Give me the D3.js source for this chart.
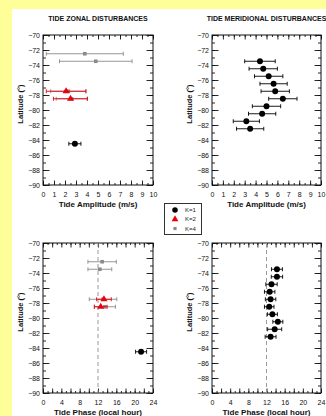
<!DOCTYPE html>
<html>
<head>
<meta charset="utf-8">
<script src="https://cdn.jsdelivr.net/npm/d3@7"></script>
<style>
  body { margin: 0; background: #ffff99; }
  svg { display: block; }
  text { font-family: Arial, "Liberation Sans", sans-serif; }
</style>
</head>
<body>
<div id="chart"></div>
<script>
// zonal disturbances
var latZonalK1 = [-84.5];
var ampZonalK1 = [2.9];
var ampErrZonalK1 = [0.55];
var phaseZonalK1 = [21.4];
var phaseErrZonalK1 = [1.2];

var latZonalK2 = [-77.5, -78.5];
var ampZonalK2 = [2.1, 2.5];
var ampErrZonalK2 = [1.8, 1.55];
var phaseZonalK2 = [13.3, 12.6];
var phaseErrZonalK2 = [1.6, 1.4];

var latZonalK4 = [-72.5, -73.5, -77.5, -78.5];
var ampZonalK4 = [3.8, 4.8, 2.3, 2.6];
var ampErrZonalK4 = [3.5, 3.3, 1.6, 1.4];
var phaseZonalK4 = [12.9, 12.4, 13.1, 13.5];
var phaseErrZonalK4 = [3.1, 2.6, 3.0, 2.3];

// meridional disturbances (K=1 only)
var latMerid = [-73.5, -74.5, -75.5, -76.5, -77.5, -78.5, -79.5, -80.5, -81.5, -82.5];
var ampMerid = [4.4, 4.7, 5.2, 5.65, 5.8, 6.5, 5.0, 4.6, 3.15, 3.5];
var ampErrMerid = [1.4, 1.3, 1.3, 1.25, 1.3, 1.3, 1.3, 1.25, 1.2, 1.25];
var phaseMerid = [14.3, 14.3, 13.1, 12.7, 12.9, 12.6, 13.3, 14.5, 13.8, 12.9];
var phaseErrMerid = [1.2, 1.25, 1.25, 1.15, 1.15, 1.05, 1.1, 1.1, 1.55, 1.2];

var latTicks = [-70, -72, -74, -76, -78, -80, -82, -84, -86, -88, -90];
var ampTicks = [0, 1, 2, 3, 4, 5, 6, 7, 8, 9, 10];
var phaseTicks = [0, 4, 8, 12, 16, 20, 24];
var legendLabels = ["K=1", "K=2", "K=4"];

var W = 326, H = 416;
var svg = d3.select("#chart").append("svg").attr("width", W).attr("height", H);
svg.append("rect").attr("x", 12).attr("y", 9).attr("width", W - 12).attr("height", H - 9).attr("fill", "#fff");

var red = "#e8000b", grey = "#8a8a8a";

function zip(lat, v, e) {
  return lat.map(function (d, i) { return { lat: d, v: v[i], e: e[i] }; });
}

function panel(opt) {
  var x = d3.scaleLinear().domain(opt.xDomain).range([opt.left, opt.right]);
  var y = d3.scaleLinear().domain([-90, -70]).range([opt.bottom, opt.top]);
  var g = svg.append("g");
  var minorX = d3.range(opt.xDomain[0], opt.xDomain[1] + 0.001, opt.minorStep);
  var majorX = d3.range(opt.xDomain[0], opt.xDomain[1] + 0.001, opt.majorStep);
  var minorY = d3.range(-90, -69, 1);

  // bottom
  g.append("g").attr("transform", "translate(0," + opt.bottom + ")")
    .call(d3.axisBottom(x).tickValues(minorX).tickFormat("").tickSize(-2));
  g.append("g").attr("transform", "translate(0," + opt.bottom + ")")
    .call(d3.axisBottom(x).tickValues(majorX).tickFormat("").tickSize(-4.5));
  g.append("g").attr("class", "lab").attr("transform", "translate(0," + opt.bottom + ")")
    .call(d3.axisBottom(x).tickValues(opt.xTicks).tickSize(0).tickPadding(7));
  // top
  g.append("g").attr("transform", "translate(0," + opt.top + ")")
    .call(d3.axisTop(x).tickValues(minorX).tickFormat("").tickSize(-2));
  g.append("g").attr("transform", "translate(0," + opt.top + ")")
    .call(d3.axisTop(x).tickValues(majorX).tickFormat("").tickSize(-4.5));
  // left
  g.append("g").attr("transform", "translate(" + opt.left + ",0)")
    .call(d3.axisLeft(y).tickValues(minorY).tickFormat("").tickSize(-3));
  g.append("g").attr("class", "lab").attr("transform", "translate(" + opt.left + ",0)")
    .call(d3.axisLeft(y).tickValues(latTicks).tickSize(-6.5).tickPadding(3));
  // right
  g.append("g").attr("transform", "translate(" + opt.right + ",0)")
    .call(d3.axisRight(y).tickValues(minorY).tickFormat("").tickSize(-3));
  g.append("g").attr("transform", "translate(" + opt.right + ",0)")
    .call(d3.axisRight(y).tickValues(latTicks).tickFormat("").tickSize(-6.5));

  g.selectAll(".domain").remove();
  g.selectAll(".tick line").attr("stroke", "#111").attr("stroke-width", 0.9);
  g.selectAll(".lab text").attr("font-size", "7px").attr("fill", "#111");

  g.append("rect").attr("x", opt.left).attr("y", opt.top)
    .attr("width", opt.right - opt.left).attr("height", opt.bottom - opt.top)
    .attr("fill", "none").attr("stroke", "#111").attr("stroke-width", 1);

  if (opt.dashAt != null) {
    g.append("line").attr("x1", x(opt.dashAt)).attr("x2", x(opt.dashAt))
      .attr("y1", opt.top).attr("y2", opt.bottom)
      .attr("stroke", "#999").attr("stroke-width", 1).attr("stroke-dasharray", "4,3");
  }

  if (opt.title) {
    g.append("text").attr("x", (opt.left + opt.right) / 2).attr("y", opt.top - 14)
      .attr("text-anchor", "middle").attr("font-size", "7px").attr("font-weight", "bold")
      .attr("fill", "#111").text(opt.title);
  }
  g.append("text").attr("x", (opt.left + opt.right) / 2).attr("y", opt.bottom + 22)
    .attr("text-anchor", "middle").attr("font-size", "8px").attr("font-weight", "bold")
    .attr("fill", "#111").text(opt.xLabel);
  g.append("text")
    .attr("transform", "translate(" + (opt.left - 20) + "," + ((opt.top + opt.bottom) / 2 - 6) + ") rotate(-90)")
    .attr("text-anchor", "middle").attr("font-size", "7.5px").attr("font-weight", "bold")
    .attr("fill", "#111").text("Latitude (°)");

  opt.series.forEach(function (s) {
    var sg = g.append("g");
    var pts = sg.selectAll("g").data(s.data).enter().append("g");
    pts.append("line")
      .attr("x1", function (d) { return x(d.v - d.e); })
      .attr("x2", function (d) { return x(d.v + d.e); })
      .attr("y1", function (d) { return y(d.lat); })
      .attr("y2", function (d) { return y(d.lat); })
      .attr("stroke", s.color).attr("stroke-width", 0.9);
    [-1, 1].forEach(function (sgn) {
      pts.append("line")
        .attr("x1", function (d) { return x(d.v + sgn * d.e); })
        .attr("x2", function (d) { return x(d.v + sgn * d.e); })
        .attr("y1", function (d) { return y(d.lat) - 2; })
        .attr("y2", function (d) { return y(d.lat) + 2; })
        .attr("stroke", s.color).attr("stroke-width", 0.9);
    });
    pts.append("path")
      .attr("transform", function (d) { return "translate(" + x(d.v) + "," + y(d.lat) + ")"; })
      .attr("d", d3.symbol().type(s.symbol).size(s.size))
      .attr("fill", s.color);
  });
}

var zonalAmpSeries = [
  { data: zip(latZonalK4, ampZonalK4, ampErrZonalK4), color: grey, symbol: d3.symbolSquare, size: 13 },
  { data: zip(latZonalK2, ampZonalK2, ampErrZonalK2), color: red, symbol: d3.symbolTriangle, size: 22 },
  { data: zip(latZonalK1, ampZonalK1, ampErrZonalK1), color: "#000", symbol: d3.symbolCircle, size: 28 }
];
var zonalPhaseSeries = [
  { data: zip(latZonalK4, phaseZonalK4, phaseErrZonalK4), color: grey, symbol: d3.symbolSquare, size: 13 },
  { data: zip(latZonalK2, phaseZonalK2, phaseErrZonalK2), color: red, symbol: d3.symbolTriangle, size: 22 },
  { data: zip(latZonalK1, phaseZonalK1, phaseErrZonalK1), color: "#000", symbol: d3.symbolCircle, size: 28 }
];

panel({ left: 43, right: 153, top: 35, bottom: 185, xDomain: [0, 10], majorStep: 1, minorStep: 0.5,
  xTicks: ampTicks, title: "TIDE ZONAL DISTURBANCES", xLabel: "Tide Amplitude (m/s)", series: zonalAmpSeries });
panel({ left: 212, right: 321, top: 35, bottom: 185, xDomain: [0, 10], majorStep: 1, minorStep: 0.5,
  xTicks: ampTicks, title: "TIDE MERIDIONAL DISTURBANCES", xLabel: "Tide Amplitude (m/s)",
  series: [{ data: zip(latMerid, ampMerid, ampErrMerid), color: "#000", symbol: d3.symbolCircle, size: 28 }] });
panel({ left: 43, right: 153, top: 243, bottom: 393, xDomain: [0, 24], majorStep: 2, minorStep: 1,
  xTicks: phaseTicks, xLabel: "Tide Phase (local hour)", dashAt: 12, series: zonalPhaseSeries });
panel({ left: 212, right: 321, top: 243, bottom: 393, xDomain: [0, 24], majorStep: 2, minorStep: 1,
  xTicks: phaseTicks, xLabel: "Tide Phase (local hour)", dashAt: 12,
  series: [{ data: zip(latMerid, phaseMerid, phaseErrMerid), color: "#000", symbol: d3.symbolCircle, size: 28 }] });

// legend
var leg = svg.append("g");
leg.append("rect").attr("x", 164.5).attr("y", 203.5).attr("width", 37).attr("height", 31)
  .attr("fill", "#fff").attr("stroke", "#333").attr("stroke-width", 1);
var legSym = [
  { symbol: d3.symbolCircle, color: "#000", size: 24 },
  { symbol: d3.symbolTriangle, color: red, size: 20 },
  { symbol: d3.symbolSquare, color: grey, size: 10 }
];
var ly = d3.scalePoint().domain(legendLabels).range([210, 228.5]);
legendLabels.forEach(function (k, i) {
  leg.append("path").attr("transform", "translate(175," + ly(k) + ")")
    .attr("d", d3.symbol().type(legSym[i].symbol).size(legSym[i].size)).attr("fill", legSym[i].color);
  leg.append("text").attr("x", 185).attr("y", ly(k) + 2.2).attr("font-size", "6px")
    .attr("fill", "#222").text(k);
});
</script>
</body>
</html>
